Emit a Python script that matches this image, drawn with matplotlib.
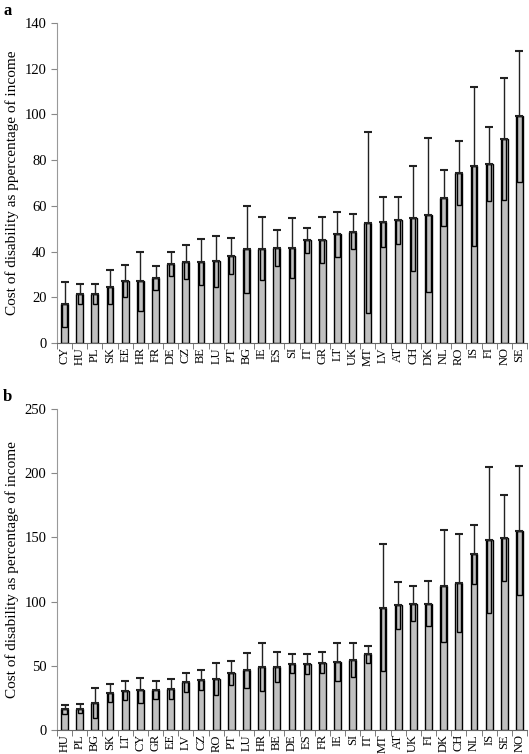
import matplotlib.pyplot as plt

plt.rcParams["font.family"] = ["Liberation Serif", "DejaVu Serif"]

# 数据 (a)
countries_a = ["CY", "HU", "PL", "SK", "EE", "HR", "FR", "DE", "CZ", "BE", "LU", "PT", "BG", "IE",
               "ES", "SI", "IT", "GR", "LT", "UK", "MT", "LV", "AT", "CH", "DK", "NL", "RO", "IS",
               "FI", "NO", "SE"]
mean_a = [17, 21.5, 21.5, 24.5, 27, 27, 28.5, 34.7, 35.5, 35.5, 35.7, 38, 41, 41.3,
          41.6, 41.6, 44.9, 45.2, 47.5, 48.7, 52.6, 53.1, 53.7, 54.5, 56, 63.4, 74.2, 77.3,
          78.3, 89.4, 99.2]
err_a = [9.8, 4.5, 4.5, 7.5, 7, 13, 5.3, 5.3, 7.5, 10, 11, 8, 19, 13.7,
         8, 13, 5.4, 10, 10, 7.7, 39.6, 10.9, 10.2, 22.8, 33.9, 12.2, 14, 34.7,
         16.2, 26.7, 28.6]

# 数据 (b)
countries_b = ["HU", "PL", "BG", "SK", "LT", "CY", "GR", "EE", "LV", "CZ", "RO", "PT", "LU", "HR",
               "BE", "DE", "ES", "FR", "IE", "SI", "IT", "MT", "AT", "UK", "FI", "DK", "CH", "NL",
               "IS", "SE", "NO"]
mean_b = [16, 16.5, 21, 29, 30.5, 31, 31.5, 32, 37, 39, 39.5, 44.5, 46.5, 49,
          49, 51.6, 51.6, 52.4, 53.2, 54.5, 58.9, 95.4, 97, 98.5, 98.3, 112.3, 114.4, 136.7,
          148.1, 149.6, 155.3]
err_b = [3.5, 3.5, 11.5, 7, 7.5, 9.7, 7, 8, 7.5, 7.5, 12.5, 9.4, 13.5, 18.9,
         11.7, 7.3, 7.8, 8, 14.7, 13.2, 6.5, 49.6, 18.4, 13.3, 17.6, 43.6, 38.3, 23.3,
         57, 33.5, 50.3]

fig = plt.figure(figsize=(5.29, 7.54), dpi=100)
ax_a = fig.add_axes([57 / 529, 1 - 343 / 754, 470 / 529, 320 / 754])
ax_b = fig.add_axes([57 / 529, 1 - 730 / 754, 470 / 529, 321 / 754])


def draw(ax, labels, means, errs, ymax, step, ylabel):
    x = list(range(len(labels)))
    lower = [m - e for m, e in zip(means, errs)]
    ax.bar(x, means, width=0.45, color="#c0c0c0", edgecolor="black", linewidth=1.0, zorder=2)
    # 下半误差用内框表示
    ax.bar(x, [m - l for m, l in zip(means, lower)], bottom=lower, width=0.28,
           fill=False, edgecolor="black", linewidth=1.0, zorder=3)
    # 上半误差
    ax.errorbar(x, means, yerr=[[0] * len(x), errs], fmt="none", ecolor="#222222",
                elinewidth=1.0, capsize=3, capthick=1.5, zorder=3)
    ax.set_xlim(-0.5, len(labels) - 0.5)
    ax.set_ylim(0, ymax)
    ax.set_yticks(range(0, ymax + 1, step))
    ax.set_xticks(x)
    ax.set_xticklabels(labels, rotation=90, fontsize=9)
    ax.set_xticks([i - 0.5 for i in range(len(labels) + 1)], minor=True)
    ax.tick_params(axis="x", which="major", length=0, pad=3)
    ax.tick_params(axis="x", which="minor", length=4, color="#666666")
    ax.tick_params(axis="y", labelsize=10.5, length=4, color="#888888")
    for s in ["top", "right"]:
        ax.spines[s].set_visible(False)
    ax.spines["left"].set_color("#999999")
    ax.spines["bottom"].set_color("#666666")
    ax.set_ylabel(ylabel, fontsize=11)


draw(ax_a, countries_a, mean_a, err_a, 140, 20, "Cost of disability as ppercentage of income")
draw(ax_b, countries_b, mean_b, err_b, 250, 50, "Cost of disability as percentage of income")

fig.text(3 / 529, 1 - 15 / 754, "a", fontsize=12, fontweight="bold")
fig.text(3 / 529, 1 - 401 / 754, "b", fontsize=12, fontweight="bold")

plt.savefig("out.png", dpi=100)
